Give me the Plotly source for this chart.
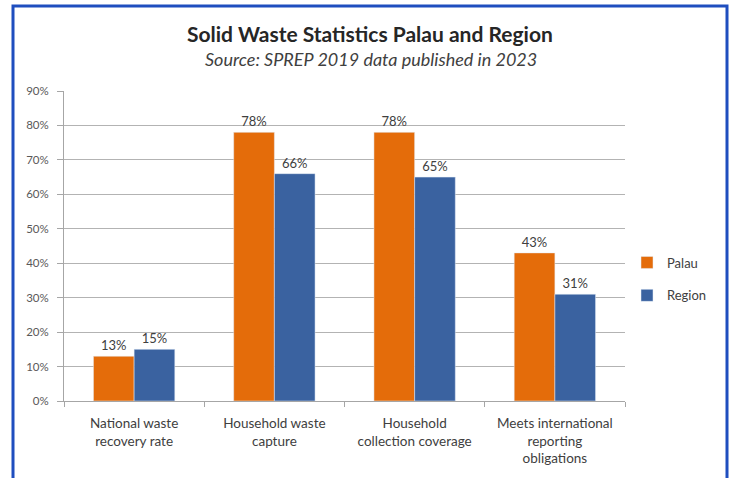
import plotly.graph_objects as go

categories = ["National waste<br>recovery rate", "Household waste<br>capture",
              "Household<br>collection coverage", "Meets international<br>reporting<br>obligations"]
palau = [13, 78, 78, 43]
region = [15, 66, 65, 31]
palau_labels = ["13%", "78%", "78%", "43%"]
region_labels = ["15%", "66%", "65%", "31%"]

FONT = "Lato, 'Liberation Sans', sans-serif"

fig = go.Figure()
fig.add_trace(go.Bar(name="Palau", x=categories, y=palau, text=palau_labels,
                     textposition="outside", marker_color="#E46C0A",
                     legendgroup="a", textfont=dict(size=13, color="#404040"),
                     cliponaxis=False))
fig.add_trace(go.Bar(name="Region", x=categories, y=region, text=region_labels,
                     textposition="outside", marker_color="#3A62A0",
                     legendgroup="b", textfont=dict(size=13, color="#404040"),
                     cliponaxis=False))

L, R, T, B = 64, 107, 91, 77
W, H = 732, 478
pw, ph = W - L - R, H - T - B

def px(x):
    return (x - L) / pw

def py(y):
    return (H - B - y) / ph

fig.update_layout(
    width=W, height=H,
    margin=dict(l=L, r=R, t=T, b=B, autoexpand=False),
    paper_bgcolor="white", plot_bgcolor="white",
    font=dict(family=FONT, color="#404040"),
    barmode="group", bargap=0.42, bargroupgap=0,
    showlegend=True,
    legend=dict(x=px(627), y=py(279), xanchor="left", yanchor="middle",
                font=dict(size=13, color="#404040"), tracegroupgap=13,
                itemwidth=30, bgcolor="rgba(0,0,0,0)"),
    xaxis=dict(showline=True, linecolor="#a6a6a6", linewidth=1, automargin=False,
               ticks="outside", tickson="boundaries", ticklen=5, tickcolor="#a6a6a6",
               ticklabelstandoff=10,
               tickfont=dict(size=13.5, color="#404040"), showgrid=False),
    yaxis=dict(range=[0, 90], dtick=10, ticksuffix="%", showgrid=True, automargin=False,
               gridcolor="#b3b3b3", gridwidth=1, showline=True, linecolor="#a6a6a6",
               ticks="outside", ticklen=6, tickcolor="#a6a6a6", ticklabelstandoff=6,
               tickfont=dict(size=11.5, color="#595959"), zeroline=False),
    annotations=[
        dict(text="<b>Solid Waste Statistics Palau and Region</b>", x=px(370), y=py(33),
             xref="paper", yref="paper", showarrow=False, xanchor="center", yanchor="middle",
             font=dict(size=21, color="#262626", family=FONT)),
        dict(text="<i>Source: SPREP 2019 data published in 2023</i>", x=px(371), y=py(59),
             xref="paper", yref="paper", showarrow=False, xanchor="center", yanchor="middle",
             font=dict(size=18, color="#404040", family=FONT)),
    ],
    shapes=[dict(type="rect", xref="paper", yref="paper",
                 x0=px(13), x1=px(727), y0=py(495), y1=py(6),
                 line=dict(color="#1F4EBF", width=3), fillcolor="rgba(0,0,0,0)",
                 layer="below")],
)

fig.write_html("out.html", config={"displayModeBar": False},
               post_script="document.body.style.margin='0';")
